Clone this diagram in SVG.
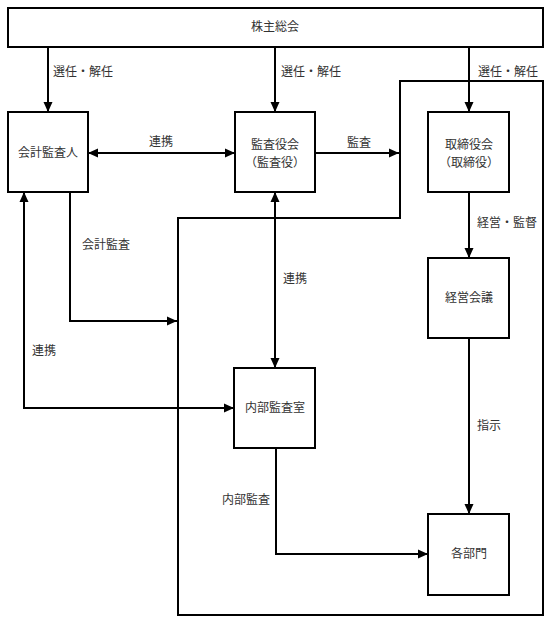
<svg xmlns="http://www.w3.org/2000/svg" width="551" height="622" viewBox="0 0 551 622">
<style>
.box{fill:#fff;stroke:#000;stroke-width:2}
.frame{fill:none;stroke:#000;stroke-width:2}
.ln{fill:none;stroke:#000;stroke-width:2}
.t{font-family:"Noto Sans CJK JP","Noto Sans CJK SC",sans-serif;font-size:12px;fill:#333}
.c{text-anchor:middle}
</style>
<defs>
<marker id="ah" markerUnits="userSpaceOnUse" markerWidth="10" markerHeight="10" refX="10" refY="5" orient="auto-start-reverse" viewBox="0 0 10 10">
<path d="M0,0.5 L10,5 L0,9.5 z" fill="#000"/>
</marker>
</defs>
<rect width="551" height="622" fill="#fff"/>
<g id="company-frame">
<path class="frame" d="M178,615 V218 H400 V81 H543 V615 Z"/>
</g>
<g id="connectors">
<line class="ln" x1="48" y1="47" x2="48" y2="112" marker-end="url(#ah)"/>
<line class="ln" x1="275" y1="47" x2="275" y2="112" marker-end="url(#ah)"/>
<line class="ln" x1="469" y1="47" x2="469" y2="112" marker-end="url(#ah)"/>
<line class="ln" x1="88" y1="153" x2="235" y2="153" marker-start="url(#ah)" marker-end="url(#ah)"/>
<line class="ln" x1="315" y1="153" x2="399" y2="153" marker-end="url(#ah)"/>
<line class="ln" x1="275" y1="192" x2="275" y2="368" marker-start="url(#ah)" marker-end="url(#ah)"/>
<path class="ln" d="M24,192 V408 H234" marker-start="url(#ah)" marker-end="url(#ah)"/>
<path class="ln" d="M70,192 V321 H177" marker-end="url(#ah)"/>
<line class="ln" x1="469" y1="192" x2="469" y2="258" marker-end="url(#ah)"/>
<line class="ln" x1="469" y1="338" x2="469" y2="514" marker-end="url(#ah)"/>
<path class="ln" d="M276,448 V554 H428" marker-end="url(#ah)"/>
<text class="t" x="53" y="76">選任・解任</text>
<text class="t" x="281" y="76">選任・解任</text>
<text class="t" x="478" y="76">選任・解任</text>
<text class="t" x="149" y="146">連携</text>
<text class="t" x="347" y="147">監査</text>
<text class="t" x="82" y="249">会計監査</text>
<text class="t" x="283" y="283">連携</text>
<text class="t" x="32" y="355">連携</text>
<text class="t" x="477" y="227">経営・監督</text>
<text class="t" x="477" y="430">指示</text>
<text class="t" x="222" y="504">内部監査</text>
</g>
<g id="shareholders">
<rect class="box" x="8" y="8" width="535" height="39"/>
<text class="t c" x="275" y="31">株主総会</text>
</g>
<g id="accounting-auditor">
<rect class="box" x="8" y="112" width="80" height="80"/>
<text class="t c" x="48" y="157">会計監査人</text>
</g>
<g id="audit-board">
<rect class="box" x="235" y="112" width="80" height="80"/>
<text class="t c" x="275" y="149">監査役会</text>
<text class="t c" x="275" y="167">（監査役）</text>
</g>
<g id="board">
<rect class="box" x="428" y="112" width="81" height="80"/>
<text class="t c" x="469" y="149">取締役会</text>
<text class="t c" x="469" y="167">（取締役）</text>
</g>
<g id="management-meeting">
<rect class="box" x="428" y="258" width="81" height="80"/>
<text class="t c" x="469" y="302">経営会議</text>
</g>
<g id="internal-audit">
<rect class="box" x="234" y="368" width="81" height="80"/>
<text class="t c" x="275" y="412">内部監査室</text>
</g>
<g id="departments">
<rect class="box" x="428" y="514" width="81" height="81"/>
<text class="t c" x="469" y="558">各部門</text>
</g>
</svg>
